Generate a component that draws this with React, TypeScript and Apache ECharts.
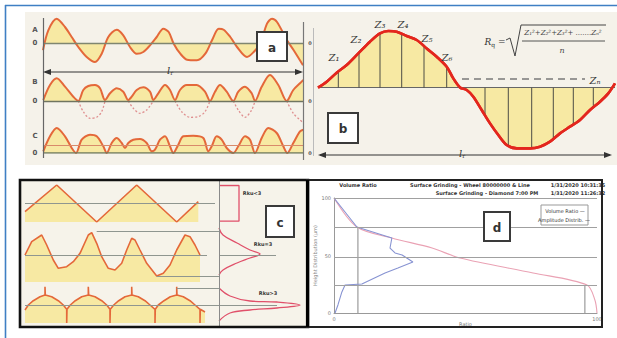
import React, { useEffect, useRef } from "react";
import * as echarts from "echarts";

// ---------- Panel a : profile traces (position along lr, height about the line) ----------
const traceA: number[][] = [
  [0, -7.3], [5.3, 12.7], [13.7, 24.3], [22, 16], [28.7, 6], [35.3, -4], [43.7, -14], [52, -19], [58.7, -10.7],
  [65.3, 6], [73.7, 13.3], [80.3, 7.7], [87, -4], [93.7, -10.7], [100.3, -9], [107, -2.3], [113.7, 6], [120.3, 14.3],
  [125.7, 11], [130.7, -0.7], [137.3, -10.7], [144, -16.7], [154, -17.3], [162.3, -10.7], [169, 2.7], [175.7, 14.3],
  [180.7, 13.3], [187.3, 6], [194, -4], [204, -14], [210.7, -9], [217.3, -0.7], [224, 19.3], [229, 24.3], [234, 21],
  [244, 2.7], [250.7, -7.3], [260, -22.3],
];
const traceBRectified: number[][] = [
  [0.3, 1], [7, 16], [13.7, 22.7], [22, 14.3], [30.3, 4.3], [35.3, 0], [40.3, 11], [45.3, 15], [52, 16], [57, 12.7],
  [62, 1], [67, 7.7], [73.7, 12.7], [80.3, 9.3], [85.3, 1], [88.7, 4.3], [93.7, 11], [100.3, 13.7], [107, 9.3],
  [110.3, 1], [115.3, 7.7], [122, 16], [127, 11], [132, 1], [137, 11], [143.7, 16], [153.7, 16], [162, 9.3], [167, 0],
  [172, 9.3], [177, 16], [183.7, 9.3], [190.3, 0], [195.3, 9.3], [202, 14.3], [208.7, 7.7], [212, 0], [218.7, 14.3],
  [227, 26], [235.3, 16], [243.7, 0], [250.3, 11], [257, 17.7], [260.3, 21],
];
const traceBNegatives: number[][][] = [
  [[35.3, 0], [40.3, -10.7], [47, -17.3], [53.7, -16.3], [58.7, -10.7], [62, 0]],
  [[85.3, 0], [90.3, -7.3], [97, -12.3], [103.7, -9], [110.3, 0]],
  [[132, 0], [138.7, -10.7], [147, -16.3], [155.3, -15.7], [162, -10.7], [167, 0]],
  [[190.3, 0], [195.3, -9], [202, -16.3], [208.7, -9], [212, 0]],
  [[243.7, 0], [250.3, -12.3], [257, -19], [260.3, -21.7]],
];
const traceC: number[][] = [
  [0.3, 1.7], [7, 16.7], [13.7, 25], [22, 16.7], [28.7, 5], [33, 0], [38.7, 13.3], [47, 18.3], [53.7, 16.7], [60.3, 6.7],
  [63.7, 0], [68.7, 10], [73.7, 15], [78.7, 10], [82, 5], [85.3, 10], [90.3, 13.3], [97, 14], [103.7, 10], [108.7, 1.7],
  [112, 3.3], [117, 13.3], [122, 16.7], [127, 6.7], [130.3, 0], [135.3, 8.3], [140.3, 16.7], [150.3, 17.3], [160.3, 15],
  [165.3, 1.7], [168.7, 6.7], [173.7, 16.7], [178.7, 13.3], [183.7, 5], [190.3, 0], [195.3, 6.7], [202, 16.7],
  [207, 13.3], [212, 0], [218.7, 15], [225.3, 25], [233.7, 20], [240.3, 6.7], [244.3, 0], [250.3, 10], [257, 21.7],
  [260.3, 23.3],
];
const traceCMeanLevel = 7.3;
const traceNames = ["A", "B", "C"];

// ---------- Panel b : sinusoidal profile and its ordinates Z ----------
const profileB: number[][] = [
  [0, 0], [8.7, 6], [18.7, 15], [28.7, 22.7], [40.3, 34.3], [52, 46], [62, 54.3], [70.3, 56.7], [78.7, 56],
  [88.7, 51.7], [98.7, 47.7], [108.7, 39.3], [118.7, 31], [128.7, 21], [135.3, 9.3], [142, 0.3], [148.7, -2.3],
  [155.3, -9], [163.7, -22.3], [172, -35.7], [180.3, -47.3], [188.7, -57.3], [198.7, -60.7], [212, -60.7],
  [222, -59], [232, -54], [242, -45.7], [252, -39], [262, -32.3], [272, -22.3], [282, -14], [290.3, -5.7], [297, 4.3],
];
const ordinatesZ: number[][] = [
  [20.3, 16], [41, 35], [62, 54.3], [83.7, 54], [106, 41.5], [128.7, 21],
  [167, -27.5], [190.3, -58], [213.7, -60.7], [235.3, -52], [255.3, -37], [275.3, -19.5],
];
const rqLevel: number[][] = [[144, 8.7], [267, 8.7]];
const zLabels = ["Z₁", "Z₂", "Z₃", "Z₄", "Z₅", "Z₆"];

// ---------- Panel c : three profiles and their height distributions ----------
const rowTriangle: number[][] = [[0, 10.3], [31.7, 37], [71.7, 0], [111.7, 37], [151.7, 0], [173.3, 20.3]];
const rowGauss: number[][] = [
  [0, 27], [6.7, 40.3], [16.7, 47], [21.7, 37], [28.3, 22], [33.3, 13.7], [41.7, 15.3], [48.3, 20.3], [55, 28.7],
  [63.3, 47], [66.7, 49.3], [71.7, 38.7], [76.7, 25.3], [83.3, 13.7], [90, 12], [96.7, 18.7], [101.7, 32], [106.7, 43.7],
  [110, 42], [115, 32], [121.7, 18.7], [131.7, 6], [138.3, 8.7], [145, 17], [151.7, 32], [160, 47], [165, 45.3],
  [170, 37], [175, 27],
];
const rowCusp: number[][] = [
  [0, 13], [3.3, 18], [8.3, 22.3], [15, 26.3], [20, 28], [20, 36.3], [20.3, 28], [26.7, 26.3], [33.3, 22.3], [38.3, 18],
  [41.7, 13.7], [41.7, 0], [42, 13.7], [45.3, 18], [50.3, 22.3], [56.7, 26.3], [63.3, 28], [63.3, 36.3], [63.7, 28],
  [70, 26.3], [76.7, 22.3], [81.7, 18], [85, 13.7], [85, 0], [85.3, 13.7], [88.7, 18], [93.7, 22.3], [100, 26.3],
  [106.7, 28], [106.7, 36.3], [107, 28], [113.3, 26.3], [120, 22.3], [125, 18], [130, 13.7], [130, 0], [130.3, 13.7],
  [133.3, 18], [139, 22.3], [145.3, 26.3], [151.7, 28], [151.7, 36.3], [152, 28], [158.3, 26.3], [165, 22.3],
  [170, 18], [175, 13.7], [175, 0], [175.3, 13.7], [180, 11],
];
const distTriangle: number[][] = [[0, 36.5], [20, 36.5], [20, 0.8], [0, 0.8]];
const distGauss: number[][] = [[0, 54], [4, 47], [18, 39], [31, 32], [41, 28], [31, 24], [18, 19], [4, 12], [0, 7]];
const distCusp: number[][] = [[0, 35], [11, 27], [31, 22], [58, 21], [81, 18], [58, 15], [31, 13], [11, 10], [0, 2]];
const rowMeans = [18.7, 27, 18];
const rowLabels = ["Rku<3", "Rku=3", "Rku>3"];

// ---------- Panel d : volume ratio (bearing) curve and amplitude distribution ----------
const volumeRatio: number[][] = [
  [0, 100], [8.7, 74.8], [22, 65.2], [37.3, 56.5], [47.9, 47.8], [75.7, 34.8], [96.2, 24.3], [99.2, 11.3], [100, 0],
];
const amplitudeDist: number[][] = [
  [0, 100], [8.7, 74.8], [22, 65.2], [21.3, 56.5], [23.2, 52.2], [25.9, 50.4], [30, 44.3], [24.3, 39.1],
  [19.4, 34.8], [10.6, 25.2], [4.2, 24.3], [3, 18.3], [1.5, 7], [0.4, 0],
];
const dLevels = [100, 74.8, 48.7, 24.3];
const dMr1: number[][] = [[9.1, 0], [9.1, 74.8]];
const dMr2: number[][] = [[95.4, 0], [95.4, 24.3]];
const dHeader = [
  "Volume Ratio",
  "Surface Grinding - Wheel 80000000 & Line",
  "Surface Grinding - Diamond 7:00 PM",
  "1/31/2020 10:31:35",
  "1/31/2020 11:26:32",
];
const dLegend = ["Volume Ratio —", "Amplitude Distrib. —"];
const panelLetters = ["a", "b", "c", "d"];

const RED = "#e4683a";
const YELLOW = "#f7e9a3";
const SERIF = "DejaVu Serif";
const SANS = "DejaVu Sans";

function buildOption() {
  const grids: any[] = [];
  const xAxes: any[] = [];
  const yAxes: any[] = [];
  const addGrid = (left: number, top: number, width: number, height: number, x: [number, number], y: [number, number]) => {
    const i = grids.length;
    grids.push({ left, top, width, height, show: false });
    xAxes.push({ type: "value", gridIndex: i, min: x[0], max: x[1], show: false });
    yAxes.push({ type: "value", gridIndex: i, min: y[0], max: y[1], show: false });
    return i;
  };
  const gA = addGrid(43, 13, 260, 60, [0, 260], [-30, 30]);
  const gB = addGrid(43, 71, 260, 60, [0, 260], [-30, 30]);
  const gC = addGrid(43, 123, 260, 30, [0, 260], [0, 30]);
  const gb = addGrid(318, 10, 297, 150, [0, 297], [-72.3, 77.7]);
  const gc1 = addGrid(25, 185, 194, 37, [0, 194], [0, 37]);
  const gc2 = addGrid(25, 228, 194, 54, [0, 194], [0, 54]);
  const gc3 = addGrid(25, 285, 194, 38, [0, 194], [0, 38]);
  const gd1 = addGrid(219, 185, 86, 37, [0, 86], [0, 37]);
  const gd2 = addGrid(219, 228, 86, 54, [0, 86], [0, 54]);
  const gd3 = addGrid(219, 285, 86, 38, [0, 86], [0, 38]);
  const gD = addGrid(334, 198, 263, 115, [0, 100], [0, 100]);

  // panel d axes visible
  xAxes[gD] = {
    type: "value", gridIndex: gD, min: 0, max: 100, interval: 100,
    axisLine: { show: true, lineStyle: { color: "#999", width: 1 } },
    axisTick: { show: false }, splitLine: { show: false },
    axisLabel: { fontSize: 5, color: "#777", margin: 3, fontFamily: SANS },
    name: "Ratio", nameLocation: "middle", nameGap: 6,
    nameTextStyle: { fontSize: 5, color: "#777", fontFamily: SANS },
  };
  yAxes[gD] = {
    type: "value", gridIndex: gD, min: 0, max: 100, interval: 50,
    axisLine: { show: true, lineStyle: { color: "#999", width: 1 } },
    axisTick: { show: false }, splitLine: { show: false },
    axisLabel: { fontSize: 5, color: "#777", margin: 3, fontFamily: SANS },
    name: "Height Distribution (µm)", nameLocation: "middle", nameGap: 15, nameRotate: 90,
    nameTextStyle: { fontSize: 5, color: "#888", fontFamily: SANS },
  };

  const mk = (lines: any[], color: string, width = 1, type: any = "solid") => ({
    silent: true, symbol: ["none", "none"], label: { show: false }, animation: false,
    lineStyle: { color, width, type }, emphasis: { disabled: true }, data: lines,
  });
  const line = (g: number, data: number[][], extra: any = {}) => ({
    type: "line", xAxisIndex: g, yAxisIndex: g, data, symbol: "none", silent: true,
    animation: false, z: 3, ...extra,
  });

  const series: any[] = [];
  // Panel a
  series.push(line(gA, traceA, {
    smooth: 0.3, lineStyle: { color: RED, width: 2 }, areaStyle: { color: YELLOW, opacity: 1 },
    markLine: mk([{ yAxis: 0 }], "#7f8670", 1.4),
  }));
  series.push(line(gB, traceBRectified, {
    smooth: 0.3, lineStyle: { color: RED, width: 2 }, areaStyle: { color: YELLOW, opacity: 1 },
    markLine: mk([{ yAxis: 0 }], "#6f7560", 1.4),
  }));
  traceBNegatives.forEach((seg) =>
    series.push(line(gB, seg, { smooth: 0.3, lineStyle: { color: "#df8f8f", width: 1.3, type: [2, 2] } }))
  );
  series.push(line(gC, traceC, {
    smooth: 0.3, lineStyle: { color: RED, width: 2 }, areaStyle: { color: YELLOW, opacity: 1, origin: "start" },
    markLine: mk([{ yAxis: traceCMeanLevel }], "#d98a6a", 1.2),
  }));
  series.push(line(gC, [[0, 0], [260, 0]], { lineStyle: { color: "#6f7a5e", width: 1.6 } }));

  // Panel b
  series.push(line(gb, profileB, {
    smooth: 0.3, lineStyle: { color: "#e3261d", width: 2.6 }, areaStyle: { color: YELLOW, opacity: 1 },
    markLine: mk([{ yAxis: 0 }], "#666", 1.2), z: 3,
  }));
  series.push({
    type: "custom", xAxisIndex: gb, yAxisIndex: gb, data: ordinatesZ, silent: true, z: 5,
    renderItem: (_p: any, api: any) => {
      const x = api.value(0);
      const y = api.value(1);
      const p0 = api.coord([x, 0]);
      const p1 = api.coord([x, y]);
      return { type: "line", shape: { x1: p0[0], y1: p0[1], x2: p1[0], y2: p1[1] }, style: { stroke: "#4d4d45", lineWidth: 1 } };
    },
  });
  series.push(line(gb, profileB, { smooth: 0.3, lineStyle: { color: "#e3261d", width: 2.6 }, z: 6 }));
  series.push(line(gb, rqLevel, { lineStyle: { color: "#7a7a7a", width: 1.6, type: [7, 5] } }));

  // Panel c
  series.push(line(gc1, rowTriangle, {
    lineStyle: { color: RED, width: 1.6 }, areaStyle: { color: YELLOW, opacity: 1, origin: "start" },
    markLine: mk([[{ coord: [0, rowMeans[0]] }, { coord: [190, rowMeans[0]] }]], "#8f9690", 1.1),
  }));
  series.push(line(gc2, rowGauss, {
    lineStyle: { color: RED, width: 1.6 }, areaStyle: { color: YELLOW, opacity: 1, origin: "start" },
    markLine: mk([
      [{ coord: [0, rowMeans[1]] }, { coord: [182, rowMeans[1]] }],
      [{ coord: [71.7, 50.3] }, { coord: [194, 50.3] }],
      [{ coord: [131.7, 5.3] }, { coord: [194, 5.3] }],
    ], "#8f9690", 1.1),
  }));
  series.push(line(gc3, rowCusp, {
    lineStyle: { color: RED, width: 1.6 }, areaStyle: { color: YELLOW, opacity: 1, origin: "start" },
    markLine: mk([
      [{ coord: [0, rowMeans[2]] }, { coord: [194, rowMeans[2]] }],
      [{ coord: [151.7, 34.7] }, { coord: [194, 34.7] }],
    ], "#8f9690", 1.1),
  }));
  series.push(line(gd1, distTriangle, { lineStyle: { color: "#e0506a", width: 1.3 } }));
  series.push(line(gd2, distGauss, {
    smooth: 0.4, lineStyle: { color: "#e0506a", width: 1.3 },
    markLine: mk([[{ coord: [0, rowMeans[1]] }, { coord: [57, rowMeans[1]] }]], "#8f9690", 1),
  }));
  series.push(line(gd3, distCusp, {
    smooth: 0.4, lineStyle: { color: "#e0506a", width: 1.3 },
    markLine: mk([[{ coord: [0, rowMeans[2]] }, { coord: [58, rowMeans[2]] }]], "#8f9690", 1),
  }));

  // Panel d
  series.push(line(gD, dMr1, { lineStyle: { color: "#888", width: 1 } }));
  series.push(line(gD, dMr2, { lineStyle: { color: "#888", width: 1 } }));
  series.push(line(gD, volumeRatio, {
    smooth: 0.3, lineStyle: { color: "#eaa2b4", width: 1.1 },
    markLine: mk(dLevels.map((v) => ({ yAxis: v })), "#a0a0a0", 1),
  }));
  series.push(line(gD, amplitudeDist, { lineStyle: { color: "#8793d2", width: 1.1 }, z: 4 }));

  // ---------- graphics ----------
  const g: any[] = [];
  const txt = (x: number, y: number, text: string, o: any = {}, z = 10) => ({
    type: "text", x, y, z, silent: true,
    style: { text, fontSize: 6, fill: "#333", align: "center", verticalAlign: "middle", fontFamily: SANS, ...o },
  });
  const seg = (x1: number, y1: number, x2: number, y2: number, stroke: string, lineWidth = 1, z = 10) => ({
    type: "line", z, silent: true, shape: { x1, y1, x2, y2 }, style: { stroke, lineWidth },
  });
  const box = (x: number, y: number, w: number, h: number, letter: string) => [
    { type: "rect", z: 20, shape: { x, y, width: w, height: h }, style: { fill: "#fff", stroke: "#3a3a3a", lineWidth: 2 } },
    txt(x + w / 2, y + h / 2 + 1, letter, { fontSize: 12, fill: "#333", fontWeight: "bold" }, 21),
  ];
  const arrow = (x1: number, x2: number, y: number) => [
    seg(x1 + 2, y, x2 - 2, y, "#333", 1.2, 6),
    { type: "polygon", z: 6, shape: { points: [[x1, y], [x1 + 8, y - 3], [x1 + 8, y + 3]] }, style: { fill: "#333" } },
    { type: "polygon", z: 6, shape: { points: [[x2, y], [x2 - 8, y - 3], [x2 - 8, y + 3]] }, style: { fill: "#333" } },
  ];
  const lr = (x: number, y: number) => ({
    type: "text", x, y, z: 7, silent: true,
    style: {
      text: "{l|l}{r|r}", align: "center", verticalAlign: "middle", fill: "#333",
      rich: { l: { fontSize: 10, fontStyle: "italic", fontFamily: SERIF, fill: "#333" }, r: { fontSize: 6, fontFamily: SERIF, fill: "#333", padding: [5, 0, 0, 0] } },
    },
  });

  // backgrounds
  g.push({ type: "rect", z: 0, silent: true, shape: { x: 25, y: 12, width: 592, height: 153 }, style: { fill: "#f5f2ea" } });
  g.push({ type: "rect", z: 0, silent: true, shape: { x: 20, y: 180, width: 288, height: 147 }, style: { fill: "#f6f3ea" } });
  g.push({ type: "rect", z: 0, silent: true, shape: { x: 307, y: 180, width: 295, height: 147 }, style: { fill: "#ffffff" } });
  // outer blue frame
  g.push(seg(5, 5.5, 617, 5.5, "#3f7fc4", 1.6, 30));
  g.push(seg(5.5, 5, 5.5, 338, "#3f7fc4", 1.6, 30));

  // panel a decorations
  g.push(seg(43.5, 18, 43.5, 158, "#666", 1.2, 6));
  g.push(seg(303.5, 22, 303.5, 160, "#777", 1.2, 6));
  g.push(seg(313.5, 28, 313.5, 156, "#bbb", 1, 6));
  g.push(...arrow(43, 303, 72));
  g.push(lr(170, 70));
  const lblY = [[30, 43], [82, 101], [136, 153]];
  traceNames.forEach((n, i) => {
    g.push(txt(35, lblY[i][0], n, { fontSize: 7, fontWeight: "bold", fill: "#555" }));
    g.push(txt(35, lblY[i][1], "0", { fontSize: 7, fontWeight: "bold", fill: "#555" }));
    g.push(txt(310, lblY[i][1], "0", { fontSize: 5, fontWeight: "bold", fill: "#555" }));
  });
  g.push(...box(257, 32, 30, 29, panelLetters[0]));

  // panel b decorations
  const zPos = [[334, 57], [356, 39], [380, 24], [403, 24], [427, 38], [447, 57]];
  zLabels.forEach((z, i) => g.push(txt(zPos[i][0], zPos[i][1], z, { fontSize: 10, fontStyle: "italic", fontFamily: SERIF, fill: "#333" })));
  g.push(txt(595, 80, "Zₙ", { fontSize: 10, fontStyle: "italic", fontFamily: SERIF, fill: "#333" }));
  g.push({
    type: "text", x: 495, y: 42, z: 10, silent: true,
    style: {
      text: "{a|R}{b|q}{a| =}", align: "center", verticalAlign: "middle", fill: "#333",
      rich: { a: { fontSize: 9, fontStyle: "italic", fontFamily: SERIF, fill: "#333" }, b: { fontSize: 6, fontFamily: SERIF, fill: "#333", padding: [4, 0, 0, 0] } },
    },
  });
  g.push({ type: "polyline", z: 10, silent: true, shape: { points: [[506, 40], [510, 38], [515, 56], [521, 25], [606, 25]] }, style: { stroke: "#444", lineWidth: 1, fill: null } });
  g.push(txt(563, 33, "Z₁²+Z₂²+Z₃²+ .......Zₙ²", { fontSize: 7, fontStyle: "italic", fontFamily: SERIF, fill: "#444" }));
  g.push(seg(522, 41, 605, 41, "#444", 0.9));
  g.push(txt(562, 50, "n", { fontSize: 8, fontStyle: "italic", fontFamily: SERIF, fill: "#444" }));
  g.push(...arrow(318, 612, 155));
  g.push(lr(462, 153));
  g.push(...box(328, 113, 30, 30, panelLetters[1]));

  // panel c decorations
  g.push(seg(219.5, 181, 219.5, 326, "#8a8a8a", 1, 6));
  g.push(txt(252, 193, rowLabels[0], { fontSize: 5, fontWeight: "bold", fill: "#333" }));
  g.push(txt(263, 244, rowLabels[1], { fontSize: 5, fontWeight: "bold", fill: "#333" }));
  g.push(txt(268, 293, rowLabels[2], { fontSize: 5, fontWeight: "bold", fill: "#333" }));
  g.push(...box(266, 206, 28, 31, panelLetters[2]));
  g.push({ type: "rect", z: 25, silent: true, shape: { x: 20, y: 180, width: 288, height: 147 }, style: { fill: null, stroke: "#111", lineWidth: 2.6 } });

  // panel d decorations
  g.push({ type: "rect", z: 25, silent: true, shape: { x: 307, y: 180, width: 295, height: 147 }, style: { fill: null, stroke: "#222", lineWidth: 2 } });
  g.push(seg(307.5, 180, 307.5, 327, "#000", 3.2, 26));
  g.push(txt(358, 185, dHeader[0], { fontSize: 5, fontWeight: "bold", fill: "#333" }));
  g.push(txt(470, 185, dHeader[1], { fontSize: 5, fontWeight: "bold", fill: "#333" }));
  g.push(txt(487, 193, dHeader[2], { fontSize: 5, fontWeight: "bold", fill: "#333" }));
  g.push(txt(578, 185, dHeader[3], { fontSize: 5, fontWeight: "bold", fill: "#333" }));
  g.push(txt(578, 193, dHeader[4], { fontSize: 5, fontWeight: "bold", fill: "#333" }));
  g.push({ type: "rect", z: 20, silent: true, shape: { x: 541, y: 205, width: 47, height: 20 }, style: { fill: "#fff", stroke: "#999", lineWidth: 1 } });
  g.push(txt(565, 210.5, dLegend[0], { fontSize: 5, fill: "#333" }, 21));
  g.push(txt(564, 219.5, dLegend[1], { fontSize: 5, fill: "#333" }, 21));
  g.push(...box(484, 212, 26, 29, panelLetters[3]));

  return {
    animation: false,
    backgroundColor: "#ffffff",
    grid: grids,
    xAxis: xAxes,
    yAxis: yAxes,
    series,
    graphic: { elements: g },
  };
}

export default function App() {
  const ref = useRef<HTMLDivElement>(null);
  useEffect(() => {
    if (!ref.current) return;
    const chart = echarts.init(ref.current, undefined, { renderer: "svg" });
    chart.setOption(buildOption() as any);
    return () => chart.dispose();
  }, []);
  return <div ref={ref} style={{ position: "absolute", left: 0, top: 0, width: 617, height: 338 }} />;
}
